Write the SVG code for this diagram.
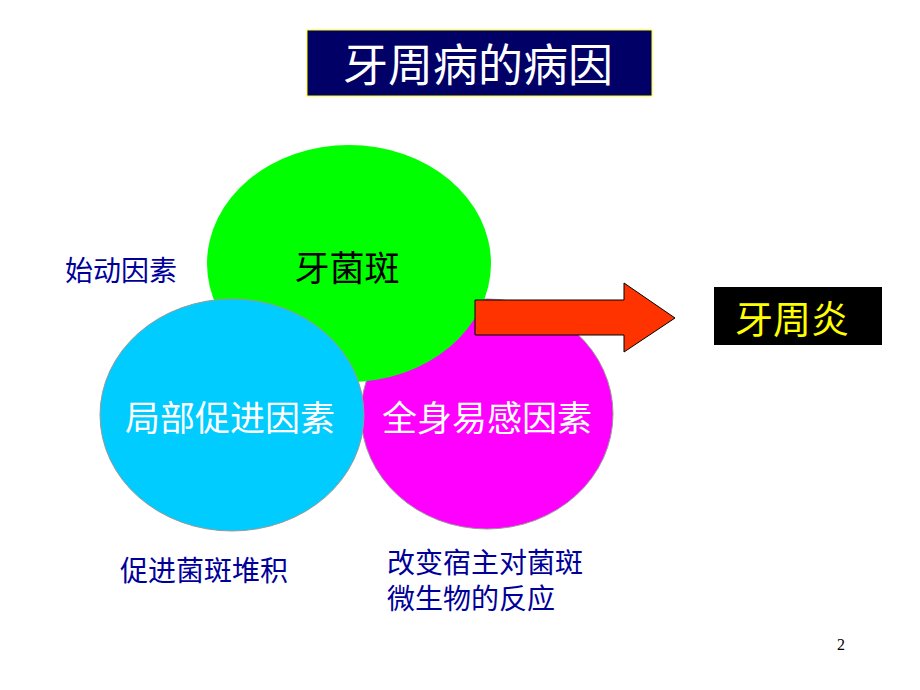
<svg xmlns="http://www.w3.org/2000/svg" width="920" height="690" viewBox="0 0 920 690">
<style>
text{font-family:"Liberation Sans","Noto Sans CJK SC",sans-serif}
.blue{fill:#000099;font-size:28px}
.white{fill:#ffffff;font-size:35px;text-anchor:middle}
</style>
<rect width="920" height="690" fill="#ffffff"/>
<g id="title">
<rect x="307" y="30" width="345" height="66" fill="#000066" stroke="#ffff00" stroke-width="1"/>
<text x="478" y="82" font-size="45" fill="#ffffff" text-anchor="middle">牙周病的病因</text>
</g>
<g id="systemic">
<ellipse cx="487" cy="414" rx="126" ry="115" fill="#ff00ff" stroke="#999999" stroke-width="1"/>
<text class="white" x="487" y="431">全身易感因素</text>
</g>
<g id="plaque">
<ellipse cx="349" cy="263.5" rx="142" ry="118.5" fill="#00ff00"/>
<text x="347" y="281" font-size="35" fill="#000000" text-anchor="middle">牙菌斑</text>
</g>
<g id="local">
<ellipse cx="232" cy="415" rx="132" ry="116" fill="#00ccff" stroke="#999999" stroke-width="1"/>
<text class="white" x="230" y="431">局部促进因素</text>
</g>
<g id="connectors">
<polygon points="475,300 624,300 624,283 675,318 624,352 624,335 475,335" fill="#ff3300" stroke="#000000" stroke-width="1"/>
</g>
<g id="periodontitis">
<rect x="714" y="287" width="168" height="58" fill="#000000"/>
<text x="792" y="333" font-size="38" fill="#ffff00" text-anchor="middle">牙周炎</text>
</g>
<g id="labels">
<text class="blue" x="65" y="281">始动因素</text>
<text class="blue" x="120" y="581">促进菌斑堆积</text>
<text class="blue" x="387" y="573">改变宿主对菌斑</text>
<text class="blue" x="387" y="609">微生物的反应</text>
</g>
<text x="837" y="650" font-size="16" fill="#000000" style="font-family:'Liberation Serif',serif">2</text>
</svg>
